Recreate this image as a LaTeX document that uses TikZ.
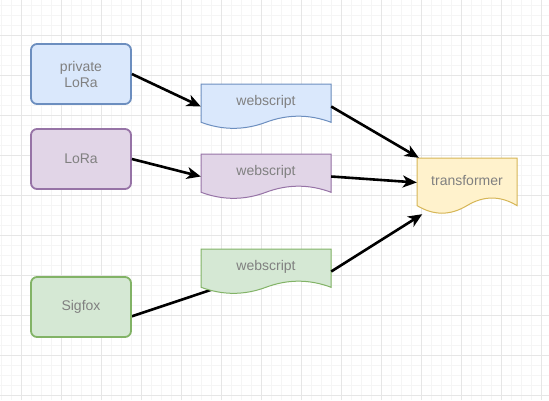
\documentclass[tikz,border=0pt]{standalone}
\usepackage{fontspec}
\setmainfont{Liberation Sans}
\usetikzlibrary{arrows.meta,calc}
\pgfdeclarelayer{bg}
\pgfdeclarelayer{shapes}
\pgfsetlayers{bg,shapes,main}
\definecolor{bluefill}{HTML}{DAE8FC}
\definecolor{bluestroke}{HTML}{6C8EBF}
\definecolor{purplefill}{HTML}{E1D5E7}
\definecolor{purplestroke}{HTML}{9673A6}
\definecolor{greenfill}{HTML}{D5E8D4}
\definecolor{greenstroke}{HTML}{82B366}
\definecolor{yellowfill}{HTML}{FFF2CC}
\definecolor{yellowstroke}{HTML}{D6B656}
\definecolor{txtgray}{HTML}{808080}
\definecolor{minorc}{HTML}{F5F5F5}
\definecolor{majorc}{HTML}{E6E6E6}
% doc shape: #1 style, #2 X, #3 Y, #4 w, #5 h
\newcommand\mydocpath[5]{%
  \path[#1] (#2,#3) -- ({#2+#4},#3) -- ({#2+#4},{#3+0.85*#5})
    .. controls ({#2+5*#4/6},{#3+0.67*#5}) and ({#2+2*#4/3},{#3+0.67*#5}) .. ({#2+#4/2},{#3+0.85*#5})
    .. controls ({#2+#4/3},{#3+1.03*#5}) and ({#2+#4/6},{#3+1.03*#5}) .. (#2,{#3+0.85*#5}) -- cycle;}
\begin{document}
\begin{tikzpicture}[x=1pt,y=-1pt,
  minorgrid/.style={draw=minorc,line width=1pt},
  majorgrid/.style={draw=majorc,line width=1pt},
  box/.style={rectangle,rounded corners=6pt,line width=1.8pt,minimum width=100pt,minimum height=60pt,
    align=center,text=txtgray,font=\fontsize{14}{16}\selectfont},
  docnode/.style={rectangle,inner sep=0pt},
  lbl/.style={text=txtgray,font=\fontsize{14}{16}\selectfont,inner sep=0pt},
  conn/.style={line width=2.6pt,black},
  arr/.style={conn,-{Stealth[length=14pt,width=12pt,inset=4pt]}}
]
\useasboundingbox (0,0) rectangle (549,400);
\begin{pgfonlayer}{bg}
  \fill[white] (0,0) rectangle (549,400);
  \foreach \x in {1,11,...,541} \draw[minorgrid] (\x,0) -- (\x,400);
  \foreach \y in {5,15,...,395} \draw[minorgrid] (0,\y) -- (549,\y);
  \foreach \x in {21,61,...,541} \draw[majorgrid] (\x,0) -- (\x,400);
  \foreach \y in {35,75,...,395} \draw[majorgrid] (0,\y) -- (549,\y);
\end{pgfonlayer}

% source boxes
\node[box,fill=bluefill,draw=bluestroke] (pl) at (81,74) {private\\LoRa};
\node[box,fill=purplefill,draw=purplestroke] (lo) at (81,159) {LoRa};
\node[box,fill=greenfill,draw=greenstroke] (si) at (81,307) {Sigfox};

% document nodes (outline drawn on shapes layer)
\node[docnode,minimum width=130pt,minimum height=45pt] (w1) at (266,106.5) {};
\node[docnode,minimum width=130pt,minimum height=45pt] (w2) at (266,176.5) {};
\node[docnode,minimum width=130pt,minimum height=45pt] (w3) at (266,271.5) {};
\node[docnode,minimum width=100pt,minimum height=56pt] (tr) at (467,186) {};

\begin{pgfonlayer}{shapes}
  \mydocpath{fill=bluefill,draw=bluestroke,line width=1pt}{201}{84}{130}{45}
  \mydocpath{fill=purplefill,draw=purplestroke,line width=1pt}{201}{154}{130}{45}
  \mydocpath{fill=greenfill,draw=greenstroke,line width=1pt}{201}{249}{130}{45}
  \mydocpath{fill=yellowfill,draw=yellowstroke,line width=1pt}{417}{158}{100}{56}
\end{pgfonlayer}

\node[lbl] (w1t) at (266,101.5) {webscript};
\node[lbl] (w2t) at (266,171.5) {webscript};
\node[lbl] (w3t) at (266,266.5) {webscript};
\node[lbl] (trt) at (467,180.5) {transformer};

% connectors
\draw[arr] (pl.east) -- (w1.west);
\draw[arr] (lo.east) -- (w2.west);
\begin{pgfonlayer}{bg}
  \draw[conn] ($(si.south east)!0.35!(si.north east)$) -- (w3.center);
\end{pgfonlayer}
\draw[arr] (w1.east) -- (tr);
\draw[arr] (w2.east) -- (tr);
\draw[arr] (w3.east) -- (tr);
\end{tikzpicture}
\end{document}
